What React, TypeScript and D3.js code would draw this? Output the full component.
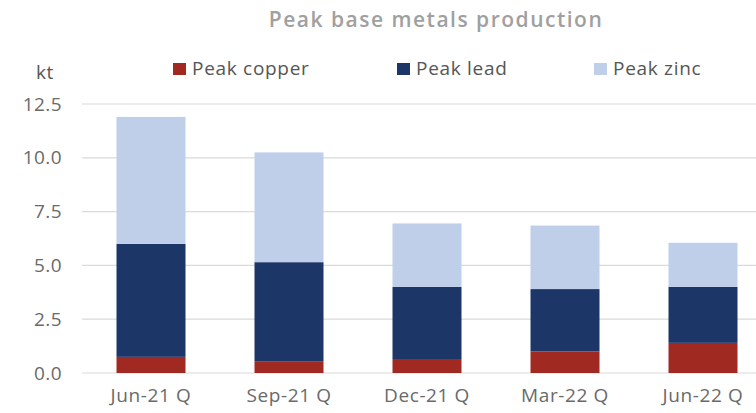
import React, { useEffect, useRef } from 'react';
import * as d3 from 'd3';

const quarters = ['Jun-21 Q', 'Sep-21 Q', 'Dec-21 Q', 'Mar-22 Q', 'Jun-22 Q'];
const copper = [0.75, 0.55, 0.65, 1.0, 1.4];
const lead = [5.25, 4.6, 3.35, 2.9, 2.6];
const zinc = [5.9, 5.1, 2.95, 2.95, 2.05];
const yTicks = [0, 2.5, 5, 7.5, 10, 12.5];
const seriesKeys = ['copper', 'lead', 'zinc'];
const seriesNames = ['Peak copper', 'Peak lead', 'Peak zinc'];
const seriesColors = ['#a02a22', '#1c3668', '#bfcfea'];

const FONT = '"Open Sans", sans-serif';

export default function App() {
  const ref = useRef<SVGSVGElement>(null);

  useEffect(() => {
    const width = 756;
    const height = 413;
    const margin = { top: 104, bottom: 40, left: 82 };

    const svg = d3.select(ref.current);
    svg.selectAll('*').remove();

    const rows = quarters.map((q, i) => ({
      quarter: q,
      copper: copper[i],
      lead: lead[i],
      zinc: zinc[i],
    }));

    const stack = d3.stack<any>().keys(seriesKeys);
    const layers = stack(rows);

    const xScale = d3
      .scaleBand()
      .domain(quarters)
      .range([margin.left, 772])
      .paddingInner(0.5)
      .paddingOuter(0.25);

    const yScale = d3
      .scaleLinear()
      .domain([0, 12.5])
      .range([height - margin.bottom, margin.top]);

    // gridlines
    svg
      .append('g')
      .selectAll('line')
      .data(yTicks)
      .enter()
      .append('line')
      .attr('x1', margin.left)
      .attr('x2', width)
      .attr('y1', (d) => yScale(d))
      .attr('y2', (d) => yScale(d))
      .attr('stroke', '#dadada')
      .attr('stroke-width', 1.2);

    // y tick labels
    svg
      .append('g')
      .selectAll('text')
      .data(yTicks)
      .enter()
      .append('text')
      .attr('x', 62)
      .attr('y', (d) => yScale(d))
      .attr('dy', '0.35em')
      .attr('text-anchor', 'end')
      .attr('font-family', FONT)
      .attr('font-size', 19)
      .attr('letter-spacing', 0.4)
      .attr('fill', '#6a6a6a')
      .text((d) => d3.format('.1f')(d));

    // bars
    svg
      .append('g')
      .selectAll('g')
      .data(layers)
      .enter()
      .append('g')
      .attr('fill', (_, i) => seriesColors[i])
      .selectAll('rect')
      .data((d) => d)
      .enter()
      .append('rect')
      .attr('x', (d: any) => xScale(d.data.quarter) as number)
      .attr('y', (d) => yScale(d[1]))
      .attr('width', xScale.bandwidth())
      .attr('height', (d) => yScale(d[0]) - yScale(d[1]));

    // x labels
    svg
      .append('g')
      .selectAll('text')
      .data(quarters)
      .enter()
      .append('text')
      .attr('x', (d) => (xScale(d) as number) + xScale.bandwidth() / 2)
      .attr('y', 402)
      .attr('text-anchor', 'middle')
      .attr('font-family', FONT)
      .attr('font-size', 19)
      .attr('letter-spacing', 0.6)
      .attr('fill', '#6a6a6a')
      .text((d) => d);

    // title
    svg
      .append('text')
      .attr('x', 436)
      .attr('y', 27)
      .attr('text-anchor', 'middle')
      .attr('font-family', FONT)
      .attr('font-size', 21)
      .attr('font-weight', 600)
      .attr('letter-spacing', 1.5)
      .attr('fill', '#a0a0a0')
      .text('Peak base metals production');

    // unit
    svg
      .append('text')
      .attr('x', 45)
      .attr('y', 79)
      .attr('text-anchor', 'middle')
      .attr('font-family', FONT)
      .attr('font-size', 19)
      .attr('letter-spacing', 0.5)
      .attr('fill', '#555')
      .text('kt');

    // legend
    const legendX = [173, 397, 594];
    const legend = svg
      .append('g')
      .selectAll('g')
      .data(seriesNames)
      .enter()
      .append('g')
      .attr('transform', (_, i) => `translate(${legendX[i]}, 63)`);

    legend
      .append('rect')
      .attr('width', 13)
      .attr('height', 12)
      .attr('fill', (_, i) => seriesColors[i]);

    legend
      .append('text')
      .attr('x', 19)
      .attr('y', 12)
      .attr('font-family', FONT)
      .attr('font-size', 19)
      .attr('letter-spacing', 0.7)
      .attr('fill', '#555')
      .text((d) => d);
  }, []);

  return (
    <svg
      ref={ref}
      width={756}
      height={413}
      style={{ position: 'absolute', left: 0, top: 0, background: '#fff' }}
    />
  );
}
